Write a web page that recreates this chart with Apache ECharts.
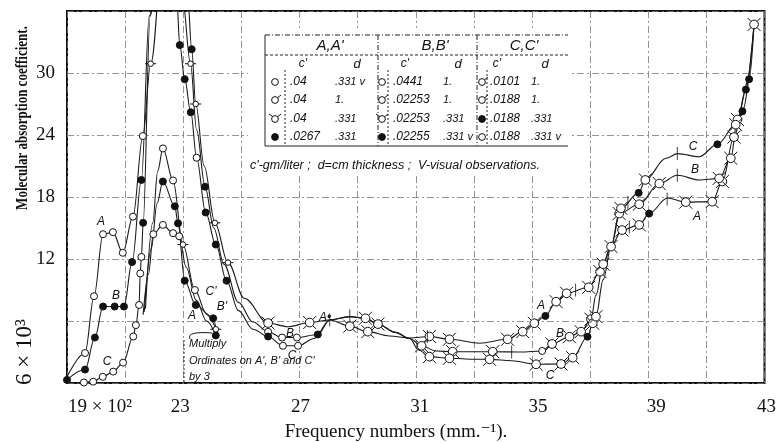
<!DOCTYPE html>
<html><head><meta charset="utf-8">
<script src="https://cdn.jsdelivr.net/npm/echarts@6/dist/echarts.min.js"></script>
<style>html,body{margin:0;padding:0;background:#fff}#c{width:779px;height:443px}</style>
</head><body><div id="c"></div>
<script>
// ---------- data ----------
const xTickValues = [19, 23, 27, 31, 35, 39, 43];
const xTickLabels = ['19 × 10²', '23', '27', '31', '35', '39', '43'];
const yTickValues = [12, 18, 24, 30];
const yTickLabels = ['12', '18', '24', '30'];
const yLowLabel = '6 × 10³';
const yTitle = 'Molecular absorption coefficient.';
const xTitle = 'Frequency numbers (mm.⁻¹).';

const curveA = [[19.0,0.6],[19.62,2.9],[19.93,8.4],[20.24,14.4],[20.58,14.6],[20.92,12.6],[21.27,16.1],[21.61,23.9],[21.88,30.9],[22.45,48],
 [23.16,37],[23.29,32.3],[23.43,27.0],[23.72,21.0],[24.09,15.5],[24.54,11.65],[25.1,8.2],[25.92,5.8],[26.6,5.45],[27.35,5.85],
 [28.04,6.1],[28.73,5.5],[29.35,4.97],[30.1,4.55],[30.79,4.35],[31.47,4.5],[32.16,4.23],[33.2,3.85],[34.16,4.23],[34.68,4.97],
 [35.08,5.78],[35.46,6.49],[35.83,7.87],[36.19,8.68],[36.95,9.26],[37.34,10.77],[37.75,13.4],[38.1,14.8],[38.69,15.3],[39.03,16.4],
 [39.66,17.9],[40.29,17.5],[41.2,17.55],[41.55,19.5],[41.95,23.8],[42.24,26.3],[42.64,34.7]];
const markA = '-oooooooh-' + '-fh-hh-t-t' + '-tt--tt-tt' + 'tftttt-ttf' + '-ttttft';

const curveB = [[19.0,0.3],[19.62,1.3],[19.96,4.4],[20.24,7.4],[20.64,7.4],[20.96,7.4],[21.24,11.7],[21.56,19.65],[21.83,35.5],[22.35,48],
 [22.98,37],[23.25,30.9],[23.46,24.5],[23.75,19.0],[24.05,15.0],[24.4,11.5],[24.9,7.8],[25.4,5.9],[25.92,4.95],[26.4,4.4],
 [26.91,4.4],[27.63,4.7],[28.04,6.1],[28.73,6.42],[29.27,6.26],[29.7,5.7],[30.3,4.9],[30.79,4.3],[31.2,3.6],[31.7,3.1],
 [32.27,3.03],[33.65,3.03],[34.6,3.0],[35.35,3.1],[35.69,3.78],[36.29,4.48],[36.69,4.97],[37.03,6.17],[37.2,8.5],[37.45,11.5],
 [37.72,13.2],[38.0,16.4],[38.69,17.3],[39.38,19.3],[40.0,20.1],[40.75,19.65],[41.44,19.8],[41.84,21.75],[42.07,25.5],[42.36,28.4],[42.64,34.7]];
const markB = 'ffffffff--' + '-h-f----oo' + 'of--tt--t-' + 'tt-otttt-t' + '-ttt--tttf-';

const curveC = [[19.58,0.05],[19.9,0.13],[20.23,0.6],[20.59,1.1],[20.93,1.97],[21.28,4.5],[21.37,5.6],[21.48,7.55],[21.52,10.6],[21.56,12.2],
 [21.62,15.5],[21.86,35.5],[22.3,48],[22.78,37],[22.88,32.7],[23.05,29.4],[23.26,26.2],[23.46,21.8],[23.77,16.5],[24.12,13.4],
 [24.49,9.9],[24.9,7.0],[25.4,5.2],[25.92,4.5],[26.43,3.6],[26.95,3.6],[27.5,4.3],[28.04,6.1],[28.73,6.42],[29.27,6.26],
 [29.7,5.7],[30.3,4.9],[30.79,4.3],[31.1,3.2],[31.47,2.55],[32.16,2.39],[33.0,2.3],[33.54,2.29],[34.3,2.15],[35.14,1.81],
 [36.0,1.84],[36.4,2.45],[36.91,4.48],[37.09,5.78],[37.2,6.42],[37.45,10.0],[37.72,13.2],[38.06,16.9],[38.67,18.4],[38.9,19.65],
 [39.61,21.75],[40.01,22.2],[40.75,21.9],[41.38,23.1],[42.01,25.0],[42.47,29.4],[42.64,34.7]];
const markC = 'oooooooooo' + 'f---fffoff' + 'f--foo----' + '----tt-t-t' + 'ttftt-ttft' + '---ftf-';

// primed curves (ordinates x 3)
const curveA1 = [[21.62,6.6],[21.8,10.5],[21.97,14.4],[22.3,15.3],[22.65,14.5],[22.86,14.2],[23.1,11.2],[23.45,8.0],[23.8,6.0],[24.12,4.6]];
const markA1 = '--oooo---f';
const curveB1 = [[21.66,6.9],[21.9,13.0],[22.1,17.4],[22.3,19.5],[22.71,17.1],[22.82,15.45],[23.05,9.9],[23.43,7.55],[24.03,6.26],[24.14,5.0]];
const markB1 = '---ffffff-';
const curveC1 = [[21.7,7.2],[21.95,15.5],[22.12,20.5],[22.3,22.7],[22.65,19.6],[22.99,13.4],[23.4,9.0],[23.8,6.7],[24.12,5.2]];
const markC1 = '---ooho-h';

// short vertical strokes on curves (visual observations)
const crossMarks = [[28.04,6.1],[28.73,6.5],[31.4,4.5],[36.5,9.0],[34.3,3.0],[40.0,22.2],[40.0,20.1],[39.65,17.8],[38.3,17.5],[38.35,15.1]];

// legend table
const tableHeads = ["A,A'", "B,B'", "C,C'"];
const tableRows = [
  [['o','.04','.331 v'], ['o','.0441','1.'], ['q','.0101','1.']],
  [['q','.04','1.'], ['q','.02253','1.'], ['q','.0188','1.']],
  [['t','.04','.331'], ['t','.02253','.331'], ['f','.0188','.331']],
  [['f','.0267','.331'], ['f','.02255','.331 v'], ['o','.0188','.331 v']]
];
const tableNote = "c'-gm/liter ;  d=cm thickness ;  V-visual observations.";

// ---------- rendering ----------
const SYM = {
  o: 'circle',
  f: 'circle',
  t: 'path://M14 10A4 4 0 1 1 6 10A4 4 0 1 1 14 10ZM12.8 7.2L16 4M7.2 7.2L4 4M7.2 12.8L4 16M12.8 12.8L16 16',
  h: 'path://M14 10A4 4 0 1 1 6 10A4 4 0 1 1 14 10ZM14 10L18 10M6 10L2 10',
  q: 'path://M14 10A4 4 0 1 1 6 10A4 4 0 1 1 14 10ZM12.8 7.2L17 4M12.8 7.2L12.8 7.2'
};
const SIZE = {o: 7, f: 7, t: 13, h: 11, q: 10};
function items(curve, marks) {
  return curve.map((p, i) => {
    const m = marks[i] || '-';
    if (m === '-') return {value: p, symbol: 'none'};
    return {value: p, symbol: SYM[m], symbolSize: SIZE[m],
      itemStyle: {color: m === 'f' ? '#111' : '#fff', borderColor: '#111', borderWidth: 1}};
  });
}
function lineSeries(name, curve, marks) {
  return {name, type: 'line', data: items(curve, marks), smooth: 0.35, smoothMonotone: 'x',
    symbolKeepAspect: true, clip: true, z: 3,
    lineStyle: {color: '#1a1a1a', width: 1.1}, emphasis: {disabled: true}, animation: false};
}

const serif = '"Liberation Serif", "DejaVu Serif", serif';
const handF = '"Liberation Sans", "DejaVu Sans", sans-serif';
const hand = 'italic 12px ' + handF;

const graphics = [];
// y title and low label
graphics.push({type: 'text', x: 22, y: 118, rotation: Math.PI / 2, scaleY: 1.35, z: 5,
  style: {text: yTitle, font: 'bold 13px ' + serif, fill: '#111', align: 'center', verticalAlign: 'middle'}});
graphics.push({type: 'text', x: 25, y: 352, rotation: Math.PI / 2, z: 5,
  style: {text: yLowLabel, font: '23px ' + serif, fill: '#111', align: 'center', verticalAlign: 'middle'}});
graphics.push({type: 'text', x: 396, y: 432, z: 5,
  style: {text: xTitle, font: '19px ' + serif, fill: '#111', align: 'center', verticalAlign: 'middle'}});

// legend table
const TL = 265, TR = 568, TT = 35, TB = 146;
graphics.push({type: 'rect', shape: {x: 248, y: 28, width: 324, height: 148}, style: {fill: '#fff'}, z: 1});
const dash = [5, 2, 1, 2];
function hl(y, x1, x2, d) { graphics.push({type: 'line', z: 4, shape: {x1, y1: y, x2, y2: y}, style: {stroke: '#222', lineWidth: 1, lineDash: d}}); }
function vl(x, y1, y2, d) { graphics.push({type: 'line', z: 4, shape: {x1: x, y1, x2: x, y2}, style: {stroke: '#222', lineWidth: 1, lineDash: d}}); }
hl(TT, TL, TR, dash); hl(55, TL, TR, [3, 2]); hl(TB, TL, TR, null);
vl(TL, TT, TB, null); vl(378, TT, TB, dash); vl(477, TT, TB, dash);
vl(285, 70, TB, [2, 2]); vl(388, 70, TB, [2, 2]); vl(487, 70, TB, [2, 2]);
const secX = [[275, 290, 335, 330, 303, 357], [382, 393, 443, 435, 405, 458], [482, 490, 531, 524, 497, 545]];
tableHeads.forEach((h, k) => {
  graphics.push({type: 'text', z: 5, x: secX[k][3], y: 46, style: {text: h, font: 'italic 15px ' + handF, fill: '#111', align: 'center', verticalAlign: 'middle'}});
  graphics.push({type: 'text', z: 5, x: secX[k][4], y: 64, style: {text: "c'", font: hand, fill: '#111', align: 'center', verticalAlign: 'middle'}});
  graphics.push({type: 'text', z: 5, x: secX[k][5], y: 64, style: {text: 'd', font: 'italic 13px ' + handF, fill: '#111', align: 'center', verticalAlign: 'middle'}});
});
const rowY = [82, 100, 119, 137];
tableRows.forEach((row, r) => {
  row.forEach((cell, k) => {
    const [m, c, d] = cell;
    const cx = secX[k][0], cy = rowY[r];
    graphics.push({type: 'circle', z: 5, shape: {cx, cy, r: 3.4}, style: {fill: m === 'f' ? '#111' : '#fff', stroke: '#111', lineWidth: 1}});
    if (m === 'q' || m === 't') graphics.push({type: 'line', z: 5, shape: {x1: cx + 2.5, y1: cy - 2.2, x2: cx + 6, y2: cy - 5}, style: {stroke: '#111', lineWidth: 1}});
    if (m === 't') graphics.push({type: 'line', z: 5, shape: {x1: cx - 2.3, y1: cy - 2.3, x2: cx - 6, y2: cy - 5}, style: {stroke: '#111', lineWidth: 1}});
    graphics.push({type: 'text', z: 5, x: secX[k][1], y: cy, style: {text: c, font: hand, fill: '#111', verticalAlign: 'middle'}});
    graphics.push({type: 'text', z: 5, x: secX[k][2], y: cy, style: {text: d, font: 'italic 11px ' + handF, fill: '#111', verticalAlign: 'middle'}});
  });
});
graphics.push({type: 'text', z: 5, x: 250, y: 166, style: {text: tableNote, font: 'italic 12.5px ' + handF, fill: '#111', verticalAlign: 'middle'}});

// curve labels
const lab = (t, x, y) => graphics.push({type: 'text', z: 5, x, y, style: {text: t, font: 'italic 12px ' + handF, fill: '#111', align: 'center', verticalAlign: 'middle'}});
lab('A', 101, 222); lab('B', 116, 296); lab('C', 107, 362);
lab("C'", 211, 292); lab("B'", 222, 307); lab('A', 192, 316);
lab('B', 290, 334); lab('C', 292, 356); lab('A•', 325, 318);
lab('A', 541, 306); lab('B', 560, 334); lab('C', 550, 376);
lab('C', 693, 147); lab('B', 695, 170); lab('A', 697, 217);
// multiply note
const noteFont = 'italic 11px ' + handF;
graphics.push({type: 'text', z: 5, x: 189, y: 344, style: {text: 'Multiply', font: noteFont, fill: '#111', verticalAlign: 'middle'}});
graphics.push({type: 'text', z: 5, x: 189, y: 361, style: {text: "Ordinates on A', B' and C'", font: noteFont, fill: '#111', verticalAlign: 'middle'}});
graphics.push({type: 'text', z: 5, x: 189, y: 377, style: {text: 'by 3', font: noteFont, fill: '#111', verticalAlign: 'middle'}});
graphics.push({type: 'bezierCurve', z: 5, shape: {x1: 190, y1: 339, cpx1: 186, cpy1: 331, x2: 212, y2: 333}, style: {stroke: '#111', lineWidth: 1, fill: null}});
vl(184, 340, 383, [2, 2]);

const xLabMap = {}; xTickValues.forEach((v, i) => xLabMap[v] = xTickLabels[i]);
const yLabMap = {}; yTickValues.forEach((v, i) => yLabMap[v] = yTickLabels[i]);
// small lettering offsets of the printed labels (pixels, + = right)
const xLabShift = {19: 33, 23: -3, 27: 1, 31: 4, 35: 6, 39: 8, 43: 2};
const xRich = {};
xTickValues.forEach(v => {
  const s = xLabShift[v];
  xRich['k' + v] = {padding: s >= 0 ? [0, 0, 0, 2 * s] : [0, -2 * s, 0, 0], fontFamily: serif, fontSize: 19, color: '#111'};
});

const chart = echarts.init(document.getElementById('c'), null, {renderer: 'canvas'});
chart.setOption({
  animation: false,
  backgroundColor: '#fff',
  grid: {left: 67, right: 12, top: 11, bottom: 60, show: true, borderColor: '#111', borderWidth: 2, backgroundColor: 'transparent'},
  xAxis: {type: 'value', min: 19, max: 43, interval: 2,
    axisLine: {show: false}, axisTick: {show: false},
    splitLine: {show: true, lineStyle: {color: '#777', width: 0.8, type: [7, 3, 2, 3]}},
    axisLabel: {margin: 15, color: '#111', fontFamily: serif, fontSize: 19,
      formatter: v => xLabMap[v] ? '{k' + v + '|' + xLabMap[v] + '}' : '',
      rich: xRich}},
  yAxis: {type: 'value', min: 0, max: 36, interval: 6,
    axisLine: {show: false}, axisTick: {show: false},
    splitLine: {show: true, lineStyle: {color: '#777', width: 0.8, type: [7, 3, 2, 3]}},
    axisLabel: {margin: 12, color: '#111', fontFamily: serif, fontSize: 19, formatter: v => yLabMap[v] || ''}},
  series: [
    lineSeries('A', curveA, markA), lineSeries('B', curveB, markB), lineSeries('C', curveC, markC),
    lineSeries("A'", curveA1, markA1), lineSeries("B'", curveB1, markB1), lineSeries("C'", curveC1, markC1),
    {type: 'scatter', data: crossMarks, symbol: 'rect', symbolSize: [1, 13], itemStyle: {color: '#111'}, z: 4, silent: true}
  ],
  graphic: graphics
});
</script></body></html>
